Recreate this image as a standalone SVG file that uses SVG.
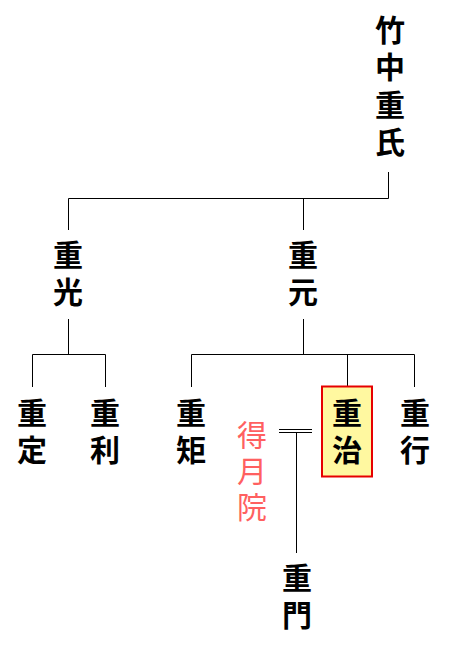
<svg xmlns="http://www.w3.org/2000/svg" width="455" height="649" viewBox="0 0 455 649">
<style>
.n{font-family:"Noto Sans CJK JP","Noto Sans CJK SC",sans-serif;font-size:30px;font-weight:bold;fill:#000;text-anchor:middle;dominant-baseline:central}
.r{fill:#FF6060;font-weight:normal}
.c{stroke:#000;stroke-width:1;fill:none}
</style>
<rect width="455" height="649" fill="#fff"/>
<g id="connectors" class="c">
<path d="M388.5 172V198.5H68.5V230"/>
<path d="M303.5 198.5V230"/>
<path d="M68.5 319V354.5"/>
<path d="M32.5 387V354.5H105.5V387"/>
<path d="M303.5 319V354.5"/>
<path d="M191.5 387V354.5H414.5V387"/>
<path d="M347.5 354.5V386"/>
<path d="M279 429.5H312M279 432.5H312"/>
<path d="M296.5 432.5V553"/>
</g>
<g id="n-shigeuji"><text class="n"><tspan x="390" y="28">竹</tspan><tspan x="390" y="65">中</tspan><tspan x="390" y="103">重</tspan><tspan x="390" y="140">氏</tspan></text></g>
<g id="n-shigemitsu"><text class="n"><tspan x="68" y="253">重</tspan><tspan x="68" y="290">光</tspan></text></g>
<g id="n-shigemoto"><text class="n"><tspan x="303" y="253">重</tspan><tspan x="303" y="290">元</tspan></text></g>
<g id="n-shigesada"><text class="n"><tspan x="32" y="411">重</tspan><tspan x="32" y="448">定</tspan></text></g>
<g id="n-shigetoshi"><text class="n"><tspan x="105" y="411">重</tspan><tspan x="105" y="448">利</tspan></text></g>
<g id="n-shigenori"><text class="n"><tspan x="191" y="411">重</tspan><tspan x="191" y="448">矩</tspan></text></g>
<g id="n-shigeharu"><rect x="322" y="386.5" width="50" height="90" fill="#FFF8A0" stroke="#E60000" stroke-width="2"/><text class="n"><tspan x="347" y="411">重</tspan><tspan x="347" y="448">治</tspan></text></g>
<g id="n-shigeyuki"><text class="n"><tspan x="415" y="411">重</tspan><tspan x="415" y="448">行</tspan></text></g>
<g id="n-tokugetsuin"><text class="n r"><tspan x="252" y="433">得</tspan><tspan x="252" y="469">月</tspan><tspan x="252" y="505">院</tspan></text></g>
<g id="n-shigekado"><text class="n"><tspan x="297" y="576">重</tspan><tspan x="297" y="613">門</tspan></text></g>
</svg>
